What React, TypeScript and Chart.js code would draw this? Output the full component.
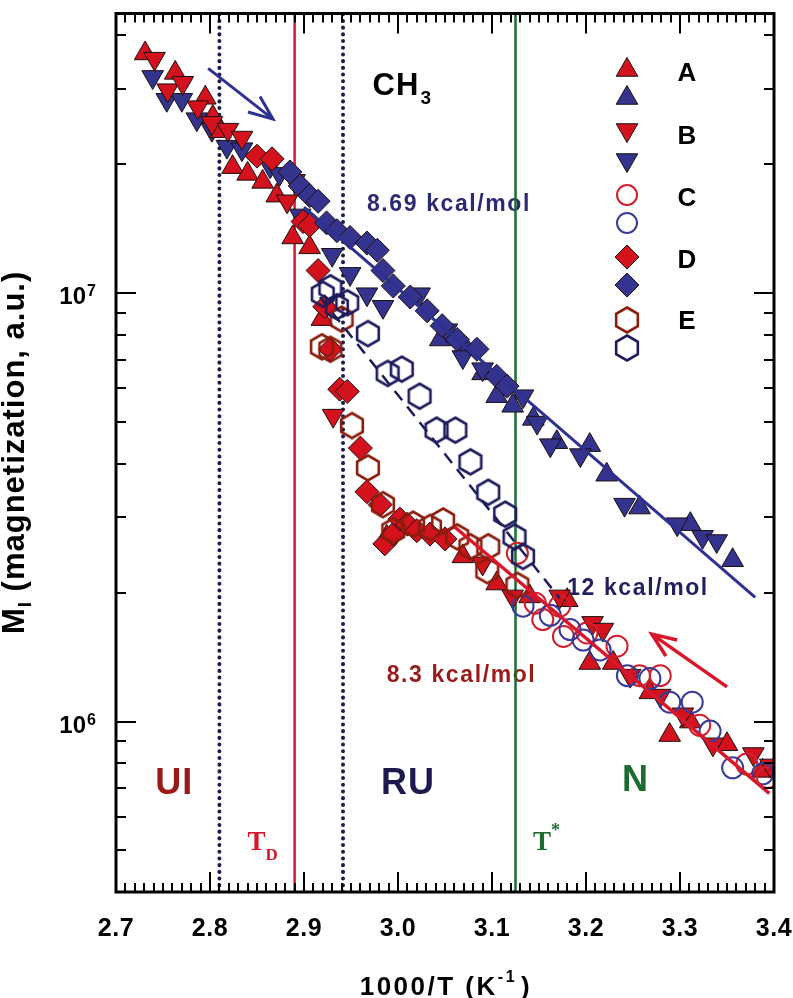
import React, { useEffect, useRef } from 'react';
import { Chart, registerables } from 'chart.js';

Chart.register(...registerables);

type P = [number, number];

// ---------- axis ticks ----------
const xMajorTicks = [2.7, 2.8, 2.9, 3.0, 3.1, 3.2, 3.3, 3.4];
const xTickLabels = ['2.7', '2.8', '2.9', '3.0', '3.1', '3.2', '3.3', '3.4'];
const yMajorTicks = [1e6, 1e7];
const yMajorExponents = ['6', '7'];
const yMinorTicks = [4e5, 5e5, 6e5, 7e5, 8e5, 9e5, 2e6, 3e6, 4e6, 5e6, 6e6, 7e6, 8e6, 9e6, 2e7, 3e7, 4e7];

// ---------- series ----------
const aRed: P[] = [
  [2.731, 3.63e7], [2.763, 3.27e7], [2.795, 2.86e7], [2.803, 2.58e7], [2.811, 2.39e7], [2.824, 1.97e7],
  [2.840, 1.90e7], [2.856, 1.82e7], [2.871, 1.69e7], [2.888, 1.35e7], [2.906, 1.28e7], [2.919, 8.7e6],
  [2.988, 2.70e6], [3.069, 2.43e6], [3.105, 2.10e6], [3.140, 1.96e6], [3.180, 1.92e6], [3.204, 1.37e6],
  [3.229, 1.37e6], [3.268, 1.17e6], [3.289, 9.3e5], [3.311, 1.0e6], [3.350, 8.85e5], [3.388, 7.67e5],
];
const aBlue: P[] = [
  [3.045, 7.8e6], [3.073, 7.4e6], [3.090, 6.5e6], [3.105, 5.75e6], [3.122, 5.46e6], [3.144, 5.09e6],
  [3.169, 4.49e6], [3.204, 4.42e6], [3.222, 3.77e6], [3.257, 3.16e6], [3.311, 2.89e6], [3.356, 2.38e6],
];
const bRed: P[] = [
  [2.741, 3.53e7], [2.755, 2.98e7], [2.771, 3.10e7], [2.787, 2.72e7], [2.802, 2.50e7], [2.819, 2.41e7],
  [2.834, 2.31e7], [2.882, 1.64e7], [2.890, 1.83e7], [2.931, 5.18e6],
  [3.090, 2.34e6], [3.122, 1.96e6], [3.172, 1.96e6], [3.207, 1.70e6], [3.218, 1.64e6], [3.247, 1.28e6],
  [3.279, 1.15e6], [3.303, 1.04e6], [3.335, 8.85e5], [3.378, 8.4e5], [3.396, 7.9e5],
];
const bBlue: P[] = [
  [2.739, 3.20e7], [2.754, 2.83e7], [2.770, 2.83e7], [2.786, 2.55e7], [2.802, 2.41e7], [2.818, 2.20e7],
  [2.834, 2.17e7], [2.864, 1.98e7], [2.874, 1.90e7], [2.896, 1.52e7],
  [2.930, 1.23e7], [2.949, 1.11e7], [2.967, 9.95e6], [2.984, 9.3e6], [3.023, 9.95e6], [3.052, 8.2e6],
  [3.069, 7.1e6], [3.090, 6.65e6], [3.133, 5.75e6], [3.148, 4.99e6], [3.162, 4.42e6], [3.194, 4.19e6],
  [3.241, 3.21e6], [3.297, 2.89e6], [3.324, 2.70e6], [3.339, 2.64e6],
];
const cRed: P[] = [
  [3.127, 2.47e6], [3.146, 1.89e6], [3.154, 1.73e6], [3.172, 1.86e6], [3.176, 1.58e6], [3.201, 1.61e6],
  [3.233, 1.50e6], [3.257, 1.28e6], [3.279, 1.28e6], [3.321, 9.8e5], [3.371, 7.96e5], [3.393, 7.4e5],
];
const cBlue: P[] = [
  [3.133, 1.86e6], [3.162, 1.77e6], [3.183, 1.64e6], [3.197, 1.55e6], [3.215, 1.47e6], [3.244, 1.28e6],
  [3.268, 1.26e6], [3.289, 1.11e6], [3.313, 1.11e6], [3.332, 9.5e5], [3.356, 7.8e5], [3.388, 7.55e5],
];
const dRed: P[] = [
  [2.850, 2.09e7], [2.866, 2.06e7], [2.899, 1.47e7], [2.906, 1.44e7], [2.915, 1.13e7], [2.922, 9.3e6],
  [2.928, 7.4e6], [2.938, 5.97e6], [2.946, 5.9e6], [2.960, 4.35e6], [2.967, 3.44e6], [2.981, 3.21e6],
  [2.986, 2.60e6], [2.995, 2.74e6], [3.002, 2.97e6], [3.010, 2.89e6], [3.020, 2.79e6], [3.034, 2.74e6],
  [3.050, 2.67e6],
];
const dBlue: P[] = [
  [2.885, 1.92e7], [2.896, 1.78e7], [2.906, 1.69e7], [2.915, 1.64e7], [2.924, 1.46e7], [2.935, 1.40e7],
  [2.949, 1.35e7], [2.967, 1.31e7], [2.978, 1.26e7], [2.984, 1.13e7], [2.995, 1.04e7], [3.013, 9.8e6],
  [3.031, 9.1e6], [3.047, 8.4e6], [3.063, 7.8e6], [3.084, 7.4e6], [3.105, 6.4e6], [3.116, 6.07e6],
];
const eRed: P[] = [
  [2.919, 7.5e6], [2.928, 7.4e6], [2.940, 8.7e6], [2.951, 4.91e6], [2.968, 3.91e6], [2.984, 3.21e6],
  [2.995, 2.79e6], [3.016, 2.89e6], [3.034, 2.84e6], [3.048, 2.94e6], [3.063, 2.70e6], [3.077, 2.56e6],
  [3.096, 2.56e6], [3.095, 2.25e6], [3.127, 2.08e6],
];
const eBlue: P[] = [
  [2.920, 9.95e6], [2.928, 1.03e7], [2.935, 9.3e6], [2.946, 9.5e6], [2.968, 8.05e6], [2.989, 6.5e6],
  [3.004, 6.65e6], [3.023, 5.75e6], [3.041, 4.79e6], [3.061, 4.79e6], [3.077, 4.04e6], [3.096, 3.43e6],
  [3.114, 3.05e6], [3.124, 2.70e6], [3.133, 2.43e6],
];

// ---------- fits, marker lines, arrows ----------
const fit869: P[] = [[2.9, 1.59e7], [3.38, 1.95e6]];
const fit83: P[] = [[3.06, 2.85e6], [3.395, 6.8e5]];
const fit12: P[] = [[2.917, 9.8e6], [3.172, 1.94e6]];
const dottedLineXs = [2.81, 2.9415];
const tdLineX = 2.89;
const tStarLineX = 3.125;
const arrowHeating: P[] = [[2.798, 3.35e7], [2.867, 2.55e7]];
const arrowCooling: P[] = [[3.35, 1.205e6], [3.27, 1.6e6]];
const legendLabels = ['A', 'B', 'C', 'D', 'E'];

const Y_MIN = 4e5;
const Y_MAX = 4.5e7;

const RED = '#d3121e';
const NAVY = '#34348f';
const RED_C = '#d0202e';
const NAVY_C = '#3a3a98';
const HEX_RED = '#8b1e0e';
const HEX_NAVY = '#1e1c5c';
const OUTLINE = '#1a1010';
const DARK_RED = '#9a1a1a';
const TEXT_NAVY = '#2c2a72';
const GREEN = '#1d6b30';
const LINE_RED = '#d8182a';
const SANS = '"Liberation Sans", Arial, sans-serif';
const SERIF = '"Liberation Serif", "Times New Roman", serif';

function makeHex(color: string): HTMLCanvasElement {
  const c = document.createElement('canvas');
  c.width = 30;
  c.height = 30;
  const g = c.getContext('2d')!;
  g.strokeStyle = color;
  g.lineWidth = 2.6;
  g.beginPath();
  for (let i = 0; i < 6; i++) {
    const a = (Math.PI / 3) * i - Math.PI / 2;
    const x = 15 + 12.5 * Math.cos(a);
    const y = 15 + 12.5 * Math.sin(a);
    if (i) g.lineTo(x, y);
    else g.moveTo(x, y);
  }
  g.closePath();
  g.stroke();
  return c;
}

function drawTri(ctx: CanvasRenderingContext2D, x: number, y: number, r: number, down: boolean, fill: string) {
  ctx.beginPath();
  for (let i = 0; i < 3; i++) {
    const a = (down ? Math.PI : 0) + (i * 2 * Math.PI) / 3;
    const px = x + Math.sin(a) * r;
    const py = y - Math.cos(a) * r;
    if (i) ctx.lineTo(px, py);
    else ctx.moveTo(px, py);
  }
  ctx.closePath();
  ctx.fillStyle = fill;
  ctx.fill();
  ctx.strokeStyle = OUTLINE;
  ctx.lineWidth = 1;
  ctx.stroke();
}

function drawDiamond(ctx: CanvasRenderingContext2D, x: number, y: number, r: number, fill: string) {
  ctx.beginPath();
  ctx.moveTo(x - r, y);
  ctx.lineTo(x, y - r);
  ctx.lineTo(x + r, y);
  ctx.lineTo(x, y + r);
  ctx.closePath();
  ctx.fillStyle = fill;
  ctx.fill();
  ctx.strokeStyle = OUTLINE;
  ctx.lineWidth = 1;
  ctx.stroke();
}

function drawCircle(ctx: CanvasRenderingContext2D, x: number, y: number, r: number, color: string) {
  ctx.beginPath();
  ctx.arc(x, y, r, 0, Math.PI * 2);
  ctx.strokeStyle = color;
  ctx.lineWidth = 2;
  ctx.stroke();
}

function txt(
  ctx: CanvasRenderingContext2D, s: string, x: number, y: number, font: string, color: string,
  align: CanvasTextAlign = 'left', spacing = 0,
) {
  ctx.font = font;
  ctx.fillStyle = color;
  ctx.textAlign = align;
  ctx.textBaseline = 'alphabetic';
  (ctx as any).letterSpacing = spacing + 'px';
  ctx.fillText(s, x, y);
  (ctx as any).letterSpacing = '0px';
}

function arrow(ctx: CanvasRenderingContext2D, x1: number, y1: number, x2: number, y2: number, color: string, w: number) {
  const ang = Math.atan2(y2 - y1, x2 - x1);
  const len = 26;
  const spread = (22 * Math.PI) / 180;
  ctx.strokeStyle = color;
  ctx.lineWidth = w;
  ctx.lineCap = 'butt';
  ctx.beginPath();
  ctx.moveTo(x1, y1);
  ctx.lineTo(x2, y2);
  ctx.moveTo(x2 - len * Math.cos(ang - spread), y2 - len * Math.sin(ang - spread));
  ctx.lineTo(x2, y2);
  ctx.lineTo(x2 - len * Math.cos(ang + spread), y2 - len * Math.sin(ang + spread));
  ctx.stroke();
}

const pts = (d: P[]) => d.map(([x, y]) => ({ x, y }));

export default function App() {
  const ref = useRef<HTMLCanvasElement | null>(null);

  useEffect(() => {
    const canvas = ref.current!;
    const hexRed = makeHex(HEX_RED);
    const hexNavy = makeHex(HEX_NAVY);

    const scatter = (data: P[], style: any, bg: string, border: string, bw: number, r: number, rot: number, order: number) => ({
      type: 'scatter' as const,
      data: pts(data),
      showLine: false,
      pointStyle: style,
      pointRadius: r,
      pointBackgroundColor: bg,
      pointBorderColor: border,
      pointBorderWidth: bw,
      pointRotation: rot,
      backgroundColor: bg,
      borderColor: border,
      order,
    });
    const line = (data: P[], color: string, w: number, dash: number[], order: number, cap: CanvasLineCap = 'butt') => ({
      type: 'scatter' as const,
      data: pts(data),
      showLine: true,
      pointRadius: 0,
      borderColor: color,
      borderWidth: w,
      borderDash: dash,
      borderCapStyle: cap,
      order,
    });
    const vline = (x: number): P[] => [[x, Y_MIN], [x, Y_MAX]];

    const overlay = {
      id: 'overlay',
      beforeDatasetsDraw(chart: any) {
        const ctx: CanvasRenderingContext2D = chart.ctx;
        const xs = chart.scales.x;
        const ys = chart.scales.y;
        const X = (v: number) => xs.getPixelForValue(v);
        const Y = (v: number) => ys.getPixelForValue(v);
        ctx.save();
        // CH3
        txt(ctx, 'CH', X(2.973), Y(2.9e7), `bold 31px ${SANS}`, '#000', 'left', 1);
        txt(ctx, '3', X(2.973) + 48, Y(2.9e7) + 9, `bold 19px ${SANS}`, '#000');
        txt(ctx, '8.69 kcal/mol', X(2.967), Y(1.553e7), `bold 23px ${SANS}`, TEXT_NAVY, 'left', 1.6);
        txt(ctx, '12 kcal/mol', X(3.18), Y(1.97e6), `bold 23px ${SANS}`, '#221f60', 'left', 1.6);
        txt(ctx, '8.3 kcal/mol', X(2.988), Y(1.236e6), `bold 23px ${SANS}`, DARK_RED, 'left', 1.6);
        txt(ctx, 'UI', X(2.762), Y(6.79e5), `bold 36px ${SANS}`, DARK_RED, 'center', 1);
        txt(ctx, 'RU', X(3.0106), Y(6.79e5), `bold 36px ${SANS}`, '#1e1a50', 'center', 1);
        txt(ctx, 'N', X(3.252), Y(6.9e5), `bold 36px ${SANS}`, GREEN, 'center');
        txt(ctx, 'T', X(2.84), Y(5.01e5), `bold 27px ${SERIF}`, LINE_RED);
        txt(ctx, 'D', X(2.84) + 18, Y(5.01e5) + 10, `bold 17px ${SERIF}`, LINE_RED);
        txt(ctx, 'T', X(3.1436), Y(5.01e5), `bold 27px ${SERIF}`, GREEN);
        txt(ctx, '*', X(3.1436) + 18, Y(5.01e5) - 14, `bold 18px ${SERIF}`, GREEN);
        ctx.restore();
      },
      afterDraw(chart: any) {
        const ctx: CanvasRenderingContext2D = chart.ctx;
        const ca = chart.chartArea;
        const xs = chart.scales.x;
        const ys = chart.scales.y;
        const X = (v: number) => xs.getPixelForValue(v);
        const Y = (v: number) => ys.getPixelForValue(v);
        ctx.save();
        // arrows
        arrow(ctx, X(arrowHeating[0][0]), Y(arrowHeating[0][1]), X(arrowHeating[1][0]), Y(arrowHeating[1][1]), '#2e3192', 3);
        arrow(ctx, X(arrowCooling[0][0]), Y(arrowCooling[0][1]), X(arrowCooling[1][0]), Y(arrowCooling[1][1]), LINE_RED, 3.5);

        // frame
        ctx.strokeStyle = '#000';
        ctx.lineWidth = 3;
        ctx.strokeRect(ca.left, ca.top, ca.right - ca.left, ca.bottom - ca.top);
        // x ticks
        ctx.lineWidth = 2;
        ctx.beginPath();
        for (let i = 0; i <= 70; i++) {
          const v = 2.7 + i * 0.01;
          const px = Math.round(X(v));
          const len = i % 10 === 0 ? 20 : 9;
          ctx.moveTo(px, ca.bottom);
          ctx.lineTo(px, ca.bottom - len);
          ctx.moveTo(px, ca.top);
          ctx.lineTo(px, ca.top + len);
        }
        // y ticks
        const yt = [...yMajorTicks.map((v) => [v, 20]), ...yMinorTicks.map((v) => [v, 10])];
        yt.forEach(([v, len]) => {
          const py = Math.round(Y(v));
          ctx.moveTo(ca.left, py);
          ctx.lineTo(ca.left + len, py);
          ctx.moveTo(ca.right, py);
          ctx.lineTo(ca.right - len, py);
        });
        ctx.stroke();

        // x tick labels
        xMajorTicks.forEach((v, i) => {
          txt(ctx, xTickLabels[i], X(v), ca.bottom + 44, `bold 25px ${SANS}`, '#000', 'center', 0.5);
        });
        // y tick labels
        yMajorTicks.forEach((v, i) => {
          const py = Y(v);
          txt(ctx, '10', ca.left - 30, py + 11, `bold 24px ${SANS}`, '#000', 'right');
          txt(ctx, yMajorExponents[i], ca.left - 29, py + 3, `bold 16px ${SANS}`, '#000', 'left');
        });

        // x title
        {
          const f1 = `bold 26px ${SANS}`;
          const f2 = `bold 16px ${SANS}`;
          const sp = 2.5;
          ctx.font = f1;
          (ctx as any).letterSpacing = sp + 'px';
          const w1 = ctx.measureText('1000/T (K').width;
          const w3 = ctx.measureText(')').width;
          ctx.font = f2;
          const w2 = ctx.measureText('-1').width;
          (ctx as any).letterSpacing = '0px';
          const total = w1 + w2 + w3 + 4;
          const x0 = X(3.051) - total / 2;
          const by = ca.bottom + 103;
          txt(ctx, '1000/T (K', x0, by, f1, '#000', 'left', sp);
          txt(ctx, '-1', x0 + w1, by - 13, f2, '#000', 'left', sp);
          txt(ctx, ')', x0 + w1 + w2 + 4, by, f1, '#000', 'left', sp);
        }
        // y title
        {
          const f1 = `bold 31px ${SANS}`;
          const f2 = `bold 19px ${SANS}`;
          const sp = 1;
          ctx.save();
          ctx.translate(24, Y(4.25e6));
          ctx.rotate(-Math.PI / 2);
          ctx.font = f1;
          (ctx as any).letterSpacing = sp + 'px';
          const wM = ctx.measureText('M').width;
          const wR = ctx.measureText(' (magnetization, a.u.)').width;
          ctx.font = f2;
          const wI = ctx.measureText('I').width;
          (ctx as any).letterSpacing = '0px';
          const total = wM + wI + wR;
          const x0 = -total / 2;
          txt(ctx, 'M', x0, 0, f1, '#000', 'left', sp);
          txt(ctx, 'I', x0 + wM, 7, f2, '#000', 'left', sp);
          txt(ctx, ' (magnetization, a.u.)', x0 + wM + wI, 0, f1, '#000', 'left', sp);
          ctx.restore();
        }

        // legend
        const lx = 627;
        const rows = [68, 96, 132, 162, 195, 223, 257, 285, 320, 348];
        drawTri(ctx, lx, rows[0] + 2, 12.5, false, RED);
        drawTri(ctx, lx, rows[1] + 2, 12.5, false, NAVY);
        drawTri(ctx, lx, rows[2] - 2, 12.5, true, RED);
        drawTri(ctx, lx, rows[3] - 2, 12.5, true, NAVY);
        drawCircle(ctx, lx, rows[4], 10, RED_C);
        drawCircle(ctx, lx, rows[5], 10, NAVY_C);
        drawDiamond(ctx, lx, rows[6], 12, RED);
        drawDiamond(ctx, lx, rows[7], 12, NAVY);
        ctx.drawImage(hexRed, lx - 15, rows[8] - 15);
        ctx.drawImage(hexNavy, lx - 15, rows[9] - 15);
        const labelY = [81, 144, 206, 268, 329];
        legendLabels.forEach((s, i) => {
          txt(ctx, s, 687, labelY[i], `bold 26px ${SANS}`, '#000', 'center');
        });
        ctx.restore();
      },
    };

    const chart = new Chart(canvas, {
      type: 'scatter',
      data: {
        datasets: [
          line(fit869, '#2e3192', 3, [], 0),
          line(fit83, LINE_RED, 3.5, [], 0),
          line(fit12, HEX_NAVY, 2.5, [12, 8], 0),
          scatter(eBlue, hexNavy, 'rgba(0,0,0,0)', HEX_NAVY, 0, 12, 0, 1),
          scatter(eRed, hexRed, 'rgba(0,0,0,0)', HEX_RED, 0, 12, 0, 2),
          scatter(cBlue, 'circle', 'rgba(0,0,0,0)', NAVY_C, 2, 10.5, 0, 3),
          scatter(cRed, 'circle', 'rgba(0,0,0,0)', RED_C, 2, 10.5, 0, 4),
          scatter(dBlue, 'rectRot', NAVY, OUTLINE, 1, 12, 0, 5),
          scatter(dRed, 'rectRot', RED, OUTLINE, 1, 12, 0, 6),
          scatter(bRed, 'triangle', RED, OUTLINE, 1, 12.5, 180, 7),
          scatter(aRed, 'triangle', RED, OUTLINE, 1, 12.5, 0, 8),
          scatter(bBlue, 'triangle', NAVY, OUTLINE, 1, 12.5, 180, 9),
          scatter(aBlue, 'triangle', NAVY, OUTLINE, 1, 12.5, 0, 10),
          line(vline(dottedLineXs[0]), '#1c1c4e', 4, [0.1, 6.6], 20, 'round'),
          line(vline(dottedLineXs[1]), '#1c1c4e', 4, [0.1, 6.6], 20, 'round'),
          line(vline(tdLineX), LINE_RED, 2.5, [], 20),
          line(vline(tStarLineX), GREEN, 2.5, [], 20),
        ] as any,
      },
      options: {
        responsive: false,
        animation: false,
        events: [],
        layout: { padding: { left: 116, right: 19, top: 2, bottom: 106 } },
        scales: {
          x: { type: 'linear', min: 2.7, max: 3.4, display: false },
          y: { type: 'logarithmic', min: Y_MIN, max: Y_MAX, display: false },
        },
        plugins: { legend: { display: false }, tooltip: { enabled: false } },
      },
      plugins: [overlay],
    });
    return () => chart.destroy();
  }, []);

  return (
    <div style={{ position: 'fixed', left: 0, top: 0, width: 793, height: 998, background: '#fff' }}>
      <canvas ref={ref} width={793} height={998} style={{ width: 793, height: 998, display: 'block' }} />
    </div>
  );
}
